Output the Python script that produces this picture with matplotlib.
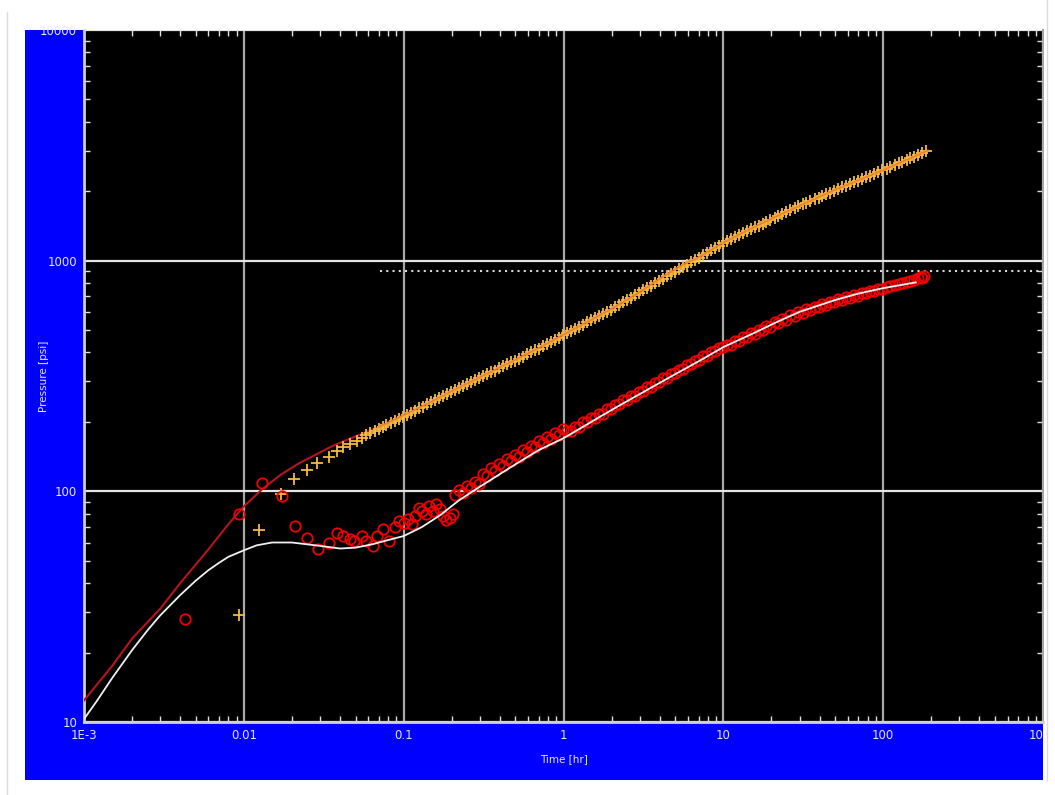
import numpy as np
import matplotlib
matplotlib.use('Agg')
import matplotlib.pyplot as plt
from matplotlib.patches import Rectangle
from matplotlib.lines import Line2D
from matplotlib.transforms import Bbox, TransformedBbox
from matplotlib.ticker import LogLocator, NullFormatter

#----------------------------------------------------------------------
# Data
#----------------------------------------------------------------------
# pressure change model (line)
t_pmodel = [0.001, 0.0015, 0.002, 0.003, 0.004, 0.006, 0.008, 0.01, 0.013, 0.017,
            0.022, 0.027, 0.035, 0.045, 0.06, 0.07, 0.1, 0.15, 0.2, 0.3, 0.5, 0.7,
            1.0, 1.5, 2.0, 3.0, 4.0, 5.0, 6.0, 7.0, 10, 15, 20, 30, 50, 70, 100,
            150, 190]
p_model = [12.4, 17.5, 23, 31, 40, 56, 72, 86, 102, 118,
           132, 142, 156, 168, 182, 190, 214, 245, 272, 312, 372, 418,
           478, 555, 618, 730, 835, 918, 985, 1032, 1196, 1380, 1520, 1730, 2030, 2230, 2470,
           2790, 3000]

# derivative model (line)
t_dmodel = [0.001, 0.0012, 0.0015, 0.002, 0.0025, 0.003, 0.004, 0.005, 0.006, 0.007,
            0.008, 0.01, 0.012, 0.015, 0.02, 0.03, 0.04, 0.05, 0.064, 0.08, 0.1,
            0.13, 0.17, 0.22, 0.27, 0.35, 0.5, 0.7, 1.0, 1.3, 1.7, 2.2, 3.3, 5, 7,
            10, 15, 22, 30, 50, 70, 100, 130, 160]
d_model = [10.3, 12.3, 15.5, 20.5, 25, 29, 35.5, 41, 45.5, 49,
           52, 55.5, 58.3, 60, 60, 58, 56.5, 57, 59, 61.5, 64,
           70, 79, 91, 100, 112, 131, 151, 170, 189, 211, 234, 274, 322, 366,
           422, 480, 545, 600, 675, 720, 760, 785, 805]

# measured pressure change (+)
t_press = [0.0093, 0.0125, 0.0172, 0.0205, 0.025, 0.0285, 0.034, 0.038, 0.0415, 0.046,
           0.051, 0.055, 0.0585, 0.062,
           0.066, 0.070, 0.074, 0.078, 0.083, 0.088, 0.093, 0.099, 0.105, 0.111,
           0.118, 0.125, 0.132, 0.140, 0.148, 0.157, 0.166, 0.176, 0.186, 0.197,
           0.209, 0.221, 0.234, 0.248, 0.263, 0.279, 0.295, 0.313, 0.331, 0.351,
           0.372, 0.394, 0.417, 0.442, 0.468, 0.496, 0.525, 0.556, 0.589, 0.624,
           0.661, 0.700, 0.742, 0.786, 0.832, 0.881, 0.934, 0.989, 1.05, 1.11,
           1.18, 1.25, 1.32, 1.40, 1.48, 1.57, 1.66, 1.76, 1.86, 1.97, 2.09, 2.21,
           2.34, 2.48, 2.63, 2.79, 2.95, 3.13, 3.31, 3.51, 3.72, 3.94, 4.17, 4.42,
           4.68, 4.96, 5.25, 5.56, 5.89, 6.24, 6.61, 7.00, 7.42, 7.86, 8.32, 8.81,
           9.34, 9.89, 10.5, 11.1, 11.8, 12.5, 13.2, 14.0, 14.8, 15.7, 16.6, 17.6,
           18.6, 19.7, 20.9, 22.1, 23.4, 24.8, 26.3, 27.9, 29.5, 31.3, 33.1, 35.1,
           37.2, 39.4, 41.7, 44.2, 46.8, 49.6, 52.5, 55.6, 58.9, 62.4, 66.1, 70.0,
           74.2, 78.6, 83.2, 88.1, 93.4, 98.9, 105, 111, 118, 125, 132, 140, 148,
           157, 166, 176, 186]
p_press = [29, 68, 97, 113, 124, 133, 141, 149, 155, 161,
           166, 171, 176, 179,
           183, 187, 190, 194, 198, 202, 206, 210, 215, 219,
           224, 229, 233, 238, 243, 248, 253, 259, 264, 270,
           275, 281, 286, 292, 297, 303, 309, 315, 321, 328,
           334, 341, 348, 355, 362, 369, 376, 384, 392, 400,
           408, 416, 425, 434, 444, 454, 464, 475, 485, 496,
           506, 517, 528, 540, 551, 563, 575, 588, 601, 614, 628, 643,
           659, 674, 691, 707, 724, 743, 760, 778, 797, 816, 835, 855,
           876, 897, 918, 940, 962, 985, 1008, 1032, 1057, 1082, 1108, 1134,
           1161, 1189, 1220, 1242, 1268, 1292, 1316, 1342, 1367, 1394, 1420, 1448,
           1475, 1504, 1534, 1562, 1592, 1624, 1656, 1688, 1720, 1752, 1781, 1812,
           1844, 1875, 1907, 1940, 1973, 2007, 2041, 2076, 2112, 2148, 2185, 2223,
           2262, 2301, 2340, 2380, 2421, 2463, 2506, 2548, 2596, 2641, 2684, 2732, 2778,
           2827, 2874, 2925, 2974]

# measured derivative (o)
t_deriv = [0.0043, 0.0093, 0.013, 0.0173, 0.021, 0.025, 0.029, 0.034, 0.038, 0.0415,
           0.046, 0.049, 0.055, 0.0585, 0.064, 0.068, 0.074, 0.081, 0.088, 0.094,
           0.100, 0.106, 0.112, 0.118, 0.125, 0.131, 0.138, 0.145, 0.152, 0.160,
           0.168, 0.176, 0.185, 0.194, 0.204,
           0.209, 0.221, 0.234, 0.248, 0.263, 0.279, 0.295, 0.313, 0.331, 0.351,
           0.372, 0.394, 0.417, 0.442, 0.468, 0.496, 0.525, 0.556, 0.589, 0.624,
           0.661, 0.700, 0.742, 0.786, 0.832, 0.881, 0.934, 0.989, 1.05, 1.11,
           1.18, 1.25, 1.32, 1.40, 1.48, 1.57, 1.66, 1.76, 1.86, 1.97, 2.09, 2.21,
           2.34, 2.48, 2.63, 2.79, 2.95, 3.13, 3.31, 3.51, 3.72, 3.94, 4.17, 4.42,
           4.68, 4.96, 5.25, 5.56, 5.89, 6.24, 6.61, 7.00, 7.42, 7.86, 8.32, 8.81,
           9.34, 9.89, 10.5, 11.1, 11.8, 12.5, 13.2, 14.0, 14.8, 15.7, 16.6, 17.6,
           18.6, 19.7, 20.9, 22.1, 23.4, 24.8, 26.3, 27.9, 29.5, 31.3, 33.1, 35.1,
           37.2, 39.4, 41.7, 44.2, 46.8, 49.6, 52.5, 55.6, 58.9, 62.4, 66.1, 70.0,
           74.2, 78.6, 83.2, 88.1, 93.4, 98.9, 105, 111, 118, 125, 132, 140, 148,
           157, 166, 172, 176, 180]
d_deriv = [28, 80, 109, 95, 71, 63, 56, 60, 66, 64,
           62, 61, 64, 61, 58, 64, 69, 61, 70, 74,
           73, 76, 72, 78, 85, 82, 80, 86, 82, 88,
           84, 78, 75, 77, 80,
           96, 101, 98, 105, 103, 110, 108, 119, 117, 126,
           123, 132, 129, 138, 135, 144, 141, 151, 148, 158,
           155, 165, 162, 172, 169, 179, 176, 186, 182, 183,
           191, 190, 199, 199, 208, 208, 217, 217, 227, 228, 237, 238,
           248, 249, 259, 260, 270, 272, 283, 284, 296, 297, 309, 311,
           323, 325, 337, 340, 353, 355, 369, 371, 385, 388, 402, 406,
           420, 424, 432, 433, 450, 448, 467, 465, 485, 483, 503, 500,
           521, 518, 541, 537, 560, 555, 580, 575, 600, 594, 616, 609,
           632, 627, 648, 641, 665, 659, 682, 676, 697, 690, 713, 706,
           727, 722, 742, 738, 757, 754, 772, 773, 788, 790, 803, 806, 818,
           822, 838, 848, 845, 858]

# horizontal dotted reference line
ref_level = 904
ref_t_start = 0.071

x_ticks = [1e-3, 1e-2, 1e-1, 1, 10, 100, 1000]
x_ticklabels = ['1E-3', '0.01', '0.1', '1', '10', '100', '1000']
y_ticks = [10, 100, 1000, 10000]
y_ticklabels = ['10', '100', '1000', '10000']

#----------------------------------------------------------------------
# Figure
#----------------------------------------------------------------------
fig = plt.figure(figsize=(10.55, 7.95), dpi=100)
fig.patch.set_facecolor('white')

blue_box = [25 / 1055, 15 / 795, 1018 / 1055, 750 / 795]
fig.patches.append(Rectangle(blue_box[:2], blue_box[2], blue_box[3],
                             transform=fig.transFigure, facecolor='#0000FF',
                             edgecolor='none', zorder=-5))
# faint frame lines of the window
fig.add_artist(Line2D([7 / 1055, 7 / 1055], [0, 783 / 795], transform=fig.transFigure,
                      color='#DADADA', lw=1, zorder=-5))
fig.add_artist(Line2D([1047 / 1055, 1047 / 1055], [15 / 795, 1], transform=fig.transFigure,
                      color='#DADADA', lw=1, zorder=-5))

ax = fig.add_axes([84 / 1055, 73 / 795, 959 / 1055, 692 / 795])
ax.set_zorder(1)
ax.set_facecolor('black')
ax.set_xscale('log')
ax.set_yscale('log')
ax.set_xlim(1e-3, 1e3)
ax.set_ylim(10, 1e4)

ax.plot(t_pmodel, p_model, color='#B8141C', lw=1.5, zorder=3)
ax.plot(t_press, p_press, '+', color='#F4BC40', ms=8, mew=1.3, zorder=4)
ax.plot(t_pmodel[15:], p_model[15:], color='#F07828', lw=1.3, alpha=0.85, zorder=4)
ax.plot(t_deriv, d_deriv, 'o', mfc='none', mec='#F20000', ms=7.5, mew=1.3, zorder=4)
ax.plot(t_dmodel, d_model, color='#F0F0F0', lw=1.3, zorder=5)
ax.hlines(ref_level, ref_t_start, 1000, colors='#D8D8D8', linestyles=(0, (1, 2)),
          lw=1.5, zorder=2)

# grid
ax.xaxis.grid(True, which='major', color='#A8A8A8', lw=1.6)
ax.yaxis.grid(True, which='major', color='#E4E4E4', lw=1.6)
ax.set_axisbelow(True)

ax.spines['top'].set_visible(False)
for side in ['left', 'bottom']:
    ax.spines[side].set_color('#D0D0D0')
    ax.spines[side].set_linewidth(2)
ax.spines['right'].set_color('#A8A8A8')
ax.spines['right'].set_linewidth(1.5)

ax.set_xticks(x_ticks, x_ticklabels)
ax.set_yticks(y_ticks, y_ticklabels)
ax.xaxis.set_minor_locator(LogLocator(base=10, subs=np.arange(2, 10)))
ax.yaxis.set_minor_locator(LogLocator(base=10, subs=np.arange(2, 10)))
ax.xaxis.set_minor_formatter(NullFormatter())
ax.yaxis.set_minor_formatter(NullFormatter())
ax.tick_params(which='major', length=0, pad=5, labelsize=8.5, labelcolor='#E6E6FF')
ax.tick_params(which='minor', direction='in', length=4, width=1, color='#E0E0E0',
               top=True, right=True)

ax.set_xlabel('Time [hr]', fontsize=7.5, color='#E6E6FF')
ax.set_ylabel('Pressure [psi]', fontsize=7.5, color='#E6E6FF')
ax.xaxis.set_label_coords(0.5, -0.047)
ax.yaxis.set_label_coords(-0.036, 0.5)

fig.canvas.draw()
clip = TransformedBbox(Bbox.from_bounds(*blue_box), fig.transFigure)
for lbl in ax.get_xticklabels():
    lbl.set_clip_box(clip)
    lbl.set_clip_on(True)

fig.savefig('out.png', dpi=100, facecolor='white')
